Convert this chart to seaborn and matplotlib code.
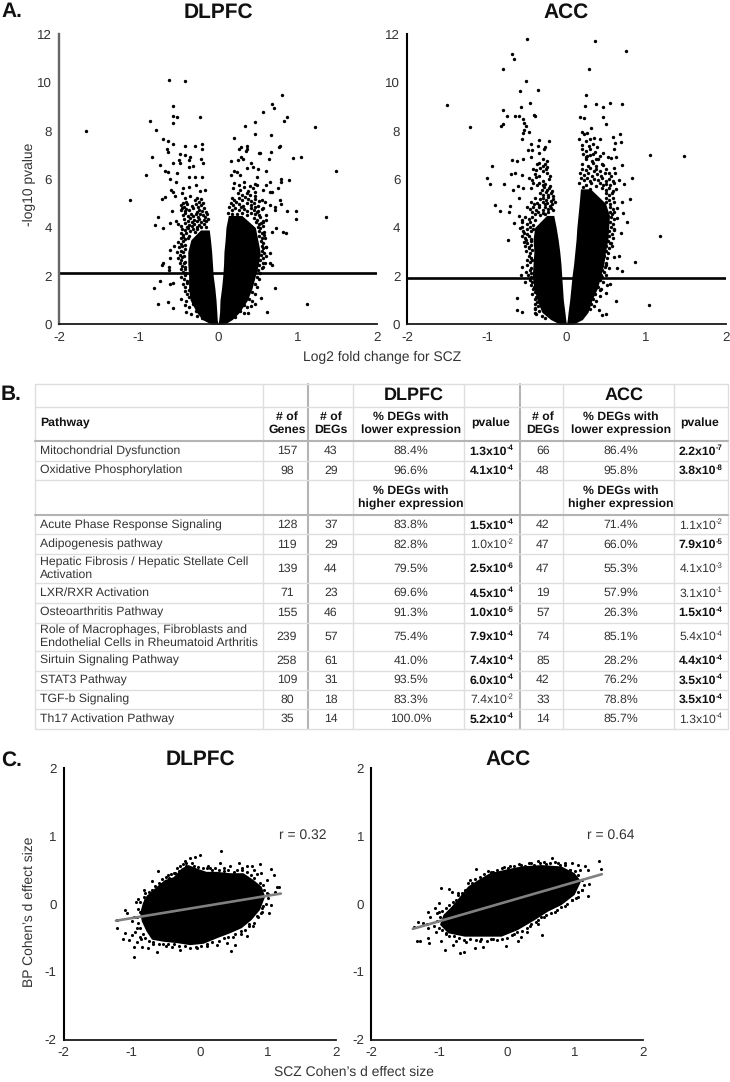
import matplotlib
matplotlib.use("Agg")
import matplotlib.pyplot as plt
import seaborn as sns

# volcano outliers, the dense core is kept as lobe outlines
dlpfc_fc = [-1.66, -1.11, -0.90, -0.855, -0.775, -0.825, -0.615, -0.415, -0.56, -0.56, -0.51, -0.56, -0.23,
            -0.69, -0.63, -0.56, -0.645, -0.625, -0.41, -0.29, -0.2, -0.2, -0.48, -0.415, -0.35, -0.36, -0.49,
            -0.56, -0.73, -0.48, -0.37, -0.31, -0.21, -0.185, -0.67, -0.63, -0.52, -0.6, -0.36, -0.29, -0.205,
            -0.53, -0.36, -0.28, -0.44, -0.595, -0.56, -0.165, -0.225, -0.45, -0.54, -0.67, -0.70, -0.58, -0.75,
            -0.6, -0.53, -0.79, -0.69, -0.69, -0.71, -0.62, -0.62, -0.61, -0.60, -0.55, -0.73, -0.8, -0.76,
            -0.61, -0.56, -0.63, -0.57,
            0.80, 0.68, 0.705, 0.56, 0.865, 0.825, 0.47, 0.34, 1.22, 0.47, 0.667, 0.205, 0.78, 0.77, 0.36,
            0.285, 0.27, 0.37, 0.35, 0.51, 0.53, 0.667, 0.94, 1.04, 0.645, 0.29, 0.16, 0.255, 0.32, 0.42,
            0.445, 0.36, 1.48, 0.61, 0.5, 0.205, 0.245, 0.165, 0.28, 0.49, 0.655, 0.79, 0.79, 0.89, 0.61,
            0.76, 0.57, 0.655, 0.675, 0.485, 0.78, 0.55, 0.79, 0.59, 0.655, 0.72, 0.57, 0.865, 0.985, 0.985,
            1.36, 0.72, 0.61, 0.57, 0.61, 0.82, 0.85, 0.73, 0.675, 0.59, 0.61, 0.655, 0.66, 0.685, 0.59, 0.56,
            0.72, 1.12, 0.615, 0.54, 0.47, 0.38]
dlpfc_logp = [7.99, 5.14, 6.18, 8.42, 8.02, 6.93, 10.10, 10.04, 9.02, 8.61, 8.55, 8.31, 8.55,
              7.66, 7.58, 7.45, 7.23, 7.12, 7.37, 7.37, 7.44, 7.23, 7.03, 7.0, 6.93, 6.79, 6.79,
              6.65, 6.58, 6.65, 6.52, 6.56, 6.83, 6.65, 6.35, 6.31, 6.24, 6.0, 6.1, 6.1, 6.1,
              5.9, 5.69, 5.76, 5.65, 5.55, 5.48, 5.55, 5.52, 5.41, 5.3, 5.28, 5.18, 4.7, 4.42,
              4.2, 4.28, 4.09, 3.97, 2.52, 2.47, 2.38, 2.25, 2.73, 3.07, 3.24, 1.8, 1.49, 0.83,
              1.67, 1.72, 0.94, 0.69,
              9.46, 9.1, 8.94, 8.76, 8.57, 8.39, 8.37, 8.18, 8.15, 7.85, 7.82, 7.69, 7.37, 7.31, 7.37,
              7.31, 7.24, 7.24, 7.16, 7.07, 7.09, 7.11, 6.89, 6.91, 6.85, 6.93, 6.74, 6.79, 6.82, 6.65,
              6.52, 6.45, 6.32, 6.35, 6.42, 6.34, 6.31, 6.17, 6.17, 6.1, 5.9, 5.99, 5.9, 5.96, 5.76,
              5.65, 5.55, 5.48, 5.48, 5.76, 5.14, 5.14, 4.96, 5.07, 4.93, 4.86, 4.79, 4.7, 4.7, 4.34,
              4.42, 4.72, 4.52, 4.24, 4.31, 3.83, 3.79, 4.0, 3.8, 3.55, 3.21, 2.93, 2.52, 2.45, 2.55, 2.38,
              1.49, 0.85, 0.51, 1.1, 0.84, 0.48]

acc_fc = [-0.495, 0.36, 0.745, -0.69, -0.655, -0.80, 0.285, -0.51, -0.585, -0.355, 0.24, -1.505, -0.46, -0.57,
          -0.80, 0.235, 0.375, 0.455, 0.545, 0.70, -0.745, -0.65, -0.595, -0.41, -0.39, -0.545, -0.53, -0.515,
          -0.80, -0.825, -1.21, 0.165, 0.225, 0.46, 0.495, -0.53, -0.465, -0.55, -0.565, -0.35, -0.22, -0.445,
          -0.36, -0.43, -0.48, -0.265, -0.28, -0.345, -0.44, -0.69, -0.625, -0.545, -0.93, -0.995, -0.96, -0.78,
          -0.67, -0.70, -0.65, -0.555, -0.605, -0.90, -0.83, -0.705, -0.72, -0.66, -0.74, -0.60, -0.55, -0.60,
          -0.555, -0.585, -0.535, -0.515, -0.47, -0.555, -0.515, -0.57, -0.525, -0.62, -0.62, -0.56, -0.39, -0.39,
          0.19, 0.22, 0.305, 0.26, 0.34, 0.42, 0.585, 0.67, 0.615, 0.68, 0.60, 0.46, 1.045, 1.47, 0.525, 0.565,
          0.625, 0.365, 0.24, 0.29, 0.455, 0.70, 0.595, 0.53, 0.825, 0.655, 0.615, 0.72, 0.625, 0.795, 0.70,
          0.635, 0.71, 0.765, 0.635, 0.69, 1.18, 0.595, 0.55, 0.865, 0.655, 0.595, 0.70, 0.635, 0.54, 0.49,
          0.625, 1.04, 0.55, 0.49, 0.405, 0.49, 0.445, 0.51, 0.425]
acc_logp = [11.78, 11.72, 11.31, 11.18, 10.98, 10.56, 10.55, 10.06, 9.63, 9.67, 9.49, 9.08, 9.13, 8.97,
            8.86, 9.01, 9.12, 8.99, 9.13, 9.12, 8.6, 8.6, 8.62, 8.65, 8.62, 8.48, 8.31, 8.21,
            8.26, 8.21, 8.15, 8.58, 8.51, 8.55, 8.28, 8.03, 7.93, 7.89, 7.64, 7.62, 7.58, 7.44,
            7.37, 7.2, 7.2, 7.31, 7.23, 7.09, 6.93, 6.79, 6.74, 6.83, 6.54, 6.06, 5.79, 5.79,
            5.55, 6.21, 6.27, 6.17, 5.72, 4.92, 4.67, 4.89, 4.66, 4.17, 3.5, 5.21, 5.62, 4.49,
            4.31, 3.97, 3.76, 3.48, 3.21, 2.38, 2.18, 2.02, 1.76, 1.1, 0.59, 0.52, 0.66, 0.45,
            7.96, 7.87, 8.11, 7.89, 7.69, 7.66, 7.74, 7.85, 7.51, 7.52, 7.24, 7.09, 6.98, 6.97, 6.9, 6.89,
            6.9, 6.82, 6.93, 7.0, 6.58, 6.58, 6.45, 6.24, 6.05, 5.96, 6.24, 5.79, 5.58, 5.17, 5.07,
            4.79, 4.59, 4.21, 4.38, 3.79, 3.65, 3.9, 3.35, 2.58, 2.84, 2.8, 2.22, 2.31, 2.31, 2.45,
            0.96, 0.8, 1.67, 1.28, 0.59, 0.43, 0.39, 1.63, 1.42]

# speckled margin of the lobes, estimated by eye as (fold change, -log10 p)
dlpfc_fringe_left = [
    (-0.42, 5.22), (-0.40, 5.07), (-0.35, 5.31), (-0.29, 5.13), (-0.27, 5.24), (-0.24, 5.04), (-0.21, 5.19),
    (-0.46, 4.93), (-0.44, 5.02), (-0.43, 4.85), (-0.39, 4.97), (-0.33, 4.89), (-0.28, 4.96), (-0.25, 4.84),
    (-0.22, 4.93), (-0.19, 5.01), (-0.47, 4.72), (-0.45, 4.81), (-0.42, 4.68), (-0.40, 4.77), (-0.36, 4.71),
    (-0.31, 4.79), (-0.27, 4.66), (-0.24, 4.74), (-0.2, 4.69), (-0.17, 4.81), (-0.15, 4.63), (-0.44, 4.53),
    (-0.41, 4.62), (-0.38, 4.46), (-0.34, 4.57), (-0.31, 4.49), (-0.28, 4.58), (-0.25, 4.45), (-0.23, 4.55),
    (-0.19, 4.5), (-0.16, 4.42), (-0.14, 4.56), (-0.43, 4.36), (-0.38, 4.28), (-0.35, 4.38), (-0.33, 4.22),
    (-0.3, 4.33), (-0.27, 4.25), (-0.24, 4.37), (-0.21, 4.21), (-0.18, 4.31), (-0.15, 4.26), (-0.13, 4.35),
    (-0.5, 4.16), (-0.46, 4.08), (-0.42, 4.17), (-0.39, 4.03), (-0.36, 4.12), (-0.33, 4.05), (-0.3, 4.14),
    (-0.27, 4.02), (-0.24, 4.1), (-0.21, 4.01), (-0.18, 4.13), (-0.15, 4.04), (-0.45, 3.94), (-0.41, 3.88),
    (-0.38, 3.97), (-0.35, 3.85), (-0.32, 3.93), (-0.29, 3.83), (-0.26, 3.95), (-0.46, 3.76), (-0.44, 3.71),
    (-0.40, 3.79), (-0.37, 3.66), (-0.47, 3.57), (-0.44, 3.62), (-0.41, 3.51), (-0.38, 3.58), (-0.5, 3.41),
    (-0.46, 3.33), (-0.44, 3.45), (-0.42, 3.27), (-0.49, 3.18), (-0.47, 3.05), (-0.45, 3.23), (-0.42, 3.12),
    (-0.52, 2.97), (-0.48, 2.88), (-0.44, 2.99), (-0.43, 2.81), (-0.5, 2.74), (-0.47, 2.66), (-0.45, 2.77),
    (-0.42, 2.58), (-0.48, 2.52), (-0.45, 2.42), (-0.43, 2.55), (-0.41, 2.36), (-0.47, 2.29), (-0.44, 2.18),
    (-0.42, 2.3), (-0.40, 2.12), (-0.46, 1.96), (-0.43, 1.87), (-0.41, 2.02), (-0.39, 1.79), (-0.44, 1.66),
    (-0.41, 1.55), (-0.39, 1.71), (-0.42, 1.37), (-0.39, 1.24), (-0.37, 1.42), (-0.46, 1.06), (-0.40, 0.96),
    (-0.36, 1.11), (-0.42, 0.79), (-0.36, 0.71), (-0.31, 0.83), (-0.40, 0.52), (-0.34, 0.44), (-0.28, 0.57),
    (-0.27, 0.33), (-0.2, 0.24)]
dlpfc_fringe_right = [
    (0.2, 5.84), (0.27, 5.77), (0.33, 5.88), (0.4, 5.73), (0.47, 5.81), (0.19, 5.62), (0.28, 5.55), (0.33, 5.67),
    (0.38, 5.52), (0.44, 5.64), (0.46, 5.48), (0.25, 5.41), (0.3, 5.33), (0.36, 5.44), (0.4, 5.36), (0.47, 5.29),
    (0.17, 5.23), (0.2, 5.14), (0.26, 5.21), (0.3, 5.12), (0.34, 5.25), (0.38, 5.16), (0.42, 5.08), (0.47, 5.19),
    (0.52, 5.11), (0.16, 5.02), (0.19, 4.93), (0.23, 5.05), (0.27, 4.96), (0.31, 4.88), (0.36, 5.01), (0.41, 4.94),
    (0.45, 5.03), (0.5, 4.91), (0.14, 4.83), (0.17, 4.74), (0.21, 4.81), (0.26, 4.71), (0.29, 4.85), (0.33, 4.76),
    (0.37, 4.69), (0.41, 4.82), (0.45, 4.73), (0.47, 4.84), (0.5, 4.67), (0.55, 4.78), (0.13, 4.61), (0.17, 4.55),
    (0.42, 4.62), (0.46, 4.54), (0.49, 4.64), (0.52, 4.51), (0.24, 4.58), (0.3, 4.62), (0.36, 4.52), (0.45, 4.41),
    (0.49, 4.33), (0.53, 4.44), (0.56, 4.29), (0.48, 4.22), (0.51, 4.13), (0.54, 4.19), (0.5, 4.04), (0.53, 3.97),
    (0.56, 4.08), (0.52, 3.86), (0.55, 3.77), (0.58, 3.83), (0.52, 3.65), (0.55, 3.56), (0.58, 3.68), (0.54, 3.44),
    (0.57, 3.36), (0.55, 3.24), (0.57, 3.14), (0.6, 3.21), (0.55, 3.04), (0.58, 2.96), (0.54, 2.86), (0.57, 2.76),
    (0.6, 2.83), (0.53, 2.64), (0.56, 2.55), (0.52, 2.44), (0.55, 2.33), (0.5, 2.24), (0.53, 2.13), (0.49, 1.97),
    (0.52, 1.86), (0.46, 1.68), (0.49, 1.56), (0.43, 1.34), (0.47, 1.26), (0.39, 1.04), (0.43, 0.95), (0.33, 0.79),
    (0.37, 0.71), (0.42, 0.77), (0.28, 0.53), (0.33, 0.46), (0.22, 0.31)]
acc_fringe_left = [
    (-0.29, 6.84), (-0.25, 6.77), (-0.37, 6.62), (-0.34, 6.68), (-0.3, 6.55), (-0.27, 6.64), (-0.25, 6.52),
    (-0.42, 6.43), (-0.38, 6.37), (-0.33, 6.46), (-0.29, 6.34), (-0.26, 6.41), (-0.4, 6.22), (-0.35, 6.15),
    (-0.24, 6.24), (-0.21, 6.13), (-0.47, 6.03), (-0.43, 5.96), (-0.38, 6.07), (-0.3, 5.94), (-0.22, 6.02),
    (-0.42, 5.84), (-0.37, 5.77), (-0.34, 5.86), (-0.3, 5.74), (-0.27, 5.82), (-0.21, 5.72), (-0.44, 5.63),
    (-0.31, 5.57), (-0.28, 5.66), (-0.25, 5.54), (-0.22, 5.62), (-0.18, 5.51), (-0.33, 5.43), (-0.29, 5.36),
    (-0.26, 5.45), (-0.23, 5.33), (-0.2, 5.42), (-0.17, 5.31), (-0.4, 5.24), (-0.33, 5.16), (-0.29, 5.22),
    (-0.26, 5.13), (-0.23, 5.26), (-0.2, 5.11), (-0.17, 5.19), (-0.45, 5.04), (-0.41, 4.96), (-0.37, 5.02),
    (-0.34, 4.93), (-0.3, 5.06), (-0.27, 4.97), (-0.24, 5.03), (-0.21, 4.91), (-0.18, 4.99), (-0.15, 5.05),
    (-0.5, 4.84), (-0.46, 4.77), (-0.42, 4.86), (-0.38, 4.74), (-0.34, 4.83), (-0.3, 4.72), (-0.27, 4.85),
    (-0.23, 4.76), (-0.2, 4.82), (-0.17, 4.71), (-0.43, 4.63), (-0.4, 4.55), (-0.36, 4.66), (-0.33, 4.53),
    (-0.3, 4.62), (-0.27, 4.57), (-0.23, 4.64), (-0.52, 4.44), (-0.47, 4.36), (-0.43, 4.43), (-0.39, 4.33),
    (-0.56, 4.22), (-0.5, 4.14), (-0.46, 4.24), (-0.42, 4.12), (-0.56, 4.04), (-0.5, 3.96), (-0.46, 4.02),
    (-0.42, 3.93), (-0.55, 3.84), (-0.5, 3.75), (-0.45, 3.86), (-0.56, 3.64), (-0.52, 3.57), (-0.47, 3.66),
    (-0.44, 3.54), (-0.54, 3.42), (-0.49, 3.35), (-0.45, 3.46), (-0.52, 3.24), (-0.47, 3.15), (-0.44, 3.27),
    (-0.51, 3.04), (-0.46, 2.95), (-0.43, 3.06), (-0.47, 2.84), (-0.44, 2.75), (-0.5, 2.64), (-0.46, 2.56),
    (-0.43, 2.67), (-0.49, 2.44), (-0.45, 2.34), (-0.46, 2.24), (-0.44, 2.13), (-0.48, 2.04), (-0.45, 1.95),
    (-0.46, 1.84), (-0.43, 1.75), (-0.44, 1.64), (-0.41, 1.55), (-0.42, 1.44), (-0.4, 1.34), (-0.43, 1.24),
    (-0.38, 1.13), (-0.40, 1.03), (-0.37, 0.93), (-0.39, 0.84), (-0.36, 0.74), (-0.40, 0.63), (-0.34, 0.54),
    (-0.38, 0.42), (-0.31, 0.35), (-0.27, 0.26)]
acc_fringe_right = [
    (0.16, 7.64), (0.25, 7.57), (0.3, 7.66), (0.2, 7.43), (0.28, 7.36), (0.33, 7.46), (0.38, 7.33), (0.2, 7.24),
    (0.24, 7.16), (0.29, 7.26), (0.36, 7.13), (0.21, 7.03), (0.26, 6.95), (0.33, 7.05), (0.42, 6.96), (0.25, 6.84),
    (0.32, 6.76), (0.4, 6.85), (0.2, 6.63), (0.27, 6.56), (0.33, 6.65), (0.37, 6.53), (0.44, 6.62), (0.2, 6.44),
    (0.24, 6.36), (0.29, 6.45), (0.34, 6.33), (0.37, 6.42), (0.42, 6.35), (0.5, 6.43), (0.17, 6.24), (0.22, 6.16),
    (0.27, 6.25), (0.32, 6.13), (0.38, 6.22), (0.43, 6.15), (0.48, 6.26), (0.56, 6.14), (0.18, 6.03), (0.22, 5.95),
    (0.26, 6.05), (0.3, 5.93), (0.35, 6.02), (0.4, 5.96), (0.44, 6.06), (0.49, 5.92), (0.54, 6.01), (0.58, 5.94),
    (0.16, 5.83), (0.24, 5.76), (0.31, 5.85), (0.37, 5.73), (0.42, 5.84), (0.46, 5.74), (0.5, 5.82), (0.55, 5.75),
    (0.6, 5.86), (0.21, 5.66), (0.3, 5.61), (0.45, 5.63), (0.5, 5.55), (0.53, 5.64), (0.58, 5.53), (0.5, 5.43),
    (0.54, 5.35), (0.57, 5.44), (0.5, 5.24), (0.54, 5.15), (0.58, 5.22), (0.5, 5.04), (0.55, 4.96), (0.6, 5.06),
    (0.55, 4.84), (0.58, 4.75), (0.55, 4.64), (0.57, 4.55), (0.6, 4.63), (0.56, 4.44), (0.6, 4.35), (0.55, 4.24),
    (0.58, 4.14), (0.56, 4.04), (0.6, 3.95), (0.54, 3.84), (0.57, 3.75), (0.54, 3.64), (0.58, 3.55), (0.52, 3.44),
    (0.56, 3.35), (0.5, 3.24), (0.53, 3.15), (0.57, 3.22), (0.49, 3.04), (0.52, 2.95), (0.47, 2.84), (0.51, 2.75),
    (0.45, 2.64), (0.49, 2.55), (0.44, 2.44), (0.48, 2.35), (0.44, 2.24), (0.47, 2.15), (0.43, 2.04), (0.45, 1.95),
    (0.49, 2.02), (0.42, 1.84), (0.46, 1.75), (0.39, 1.54), (0.43, 1.45), (0.36, 1.24), (0.42, 1.15), (0.33, 1.04),
    (0.37, 0.95), (0.31, 0.84), (0.34, 0.75), (0.29, 0.62)]

# outlines of the solid black core of each volcano lobe
dlpfc_left_y = [0.0, 0.2, 0.5, 1.0, 1.5, 2.0, 2.5, 3.0, 3.5, 3.9]
dlpfc_left_outer = [-0.08, -0.2, -0.27, -0.35, -0.37, -0.37, -0.38, -0.38, -0.34, -0.22]
dlpfc_left_inner = [0.0, -0.01, -0.015, -0.025, -0.04, -0.06, -0.07, -0.08, -0.095, -0.11]
dlpfc_right_y = [0.0, 0.2, 0.5, 1.0, 1.5, 2.0, 2.5, 3.0, 3.5, 4.0, 4.5]
dlpfc_right_outer = [0.08, 0.18, 0.27, 0.37, 0.43, 0.47, 0.51, 0.53, 0.5, 0.47, 0.3]
dlpfc_right_inner = [0.0, 0.01, 0.02, 0.025, 0.045, 0.06, 0.07, 0.075, 0.09, 0.10, 0.13]
acc_left_y = [0.0, 0.2, 0.5, 1.0, 1.5, 2.0, 2.5, 3.0, 3.5, 4.0, 4.5]
acc_left_outer = [-0.08, -0.2, -0.31, -0.37, -0.41, -0.43, -0.42, -0.41, -0.42, -0.40, -0.25]
acc_left_inner = [0.0, -0.01, -0.02, -0.04, -0.05, -0.06, -0.07, -0.085, -0.105, -0.13, -0.16]
acc_right_y = [0.0, 0.2, 0.5, 1.0, 1.5, 2.0, 2.5, 3.0, 3.5, 4.0, 4.5, 5.0, 5.6]
acc_right_outer = [0.08, 0.2, 0.27, 0.32, 0.39, 0.43, 0.47, 0.49, 0.52, 0.53, 0.54, 0.49, 0.3]
acc_right_inner = [0.0, 0.01, 0.02, 0.04, 0.055, 0.07, 0.09, 0.105, 0.12, 0.13, 0.145, 0.16, 0.175]

dlpfc_cut = 2.1
acc_cut = 1.9

# effect size scatter, outliers plus the outline of the black cloud
c_dlpfc_x = [0.31, -0.62, -0.96, 0.46, -1.21, -1.21, -1.095, -1.07, -0.935, -0.80, 0.0, -0.07, -0.14, -0.215, -0.29,
             0.885, 1.04, 0.76, 0.69, 0.58, 0.445, 0.30, 0.125, 1.09, 1.13, 1.17, 1.105, 1.04, 1.02, 0.935,
             0.785, 0.69, 0.52, 0.49, 0.25, -0.045, -0.29, -0.41, -0.63, -0.755, -0.97, -0.925, -1.12, -1.045,
             -1.095, -1.0, -0.875, -0.925, -1.0, -0.97, -0.85, -0.68, -0.5, 0.9, 0.8, 0.98, 1.0, 0.85, 0.62, 0.35,
             -0.9, -0.82, -0.7, -0.47, -0.2, 0.1, 0.4, 0.6, -0.86, -0.95, -0.38, 0.15, 0.72, 0.92,
             -0.9, -0.88, -0.82, -0.8, -0.74, -0.7, -0.66, -0.6, -0.55, -0.5, -0.45, -0.42, -0.37, -0.33, -0.3, -0.25,
             -0.2, -0.12, -0.08, -0.02, 0.05, 0.1, 0.18, 0.22, 0.28, 0.35, 0.42, 0.5, 0.55, 0.62, 0.7, 0.75, 0.8, 0.84,
             0.88, 0.93, 0.95, 0.98, 1.0, 0.97, 0.92, 0.9, 0.84, 0.8, 0.72, 0.66, 0.6, 0.52, 0.42, 0.35, 0.28, 0.18,
             0.1, 0.02, -0.06, -0.14, -0.22, -0.3, -0.38, -0.46, -0.54, -0.6, -0.68, -0.74, -0.8, -0.83, -0.87, -0.9,
             -0.92, -0.88]
c_dlpfc_y = [0.77, 0.48, -0.78, -0.70, -0.24, -0.35, -0.09, -0.14, 0.02, 0.155, 0.72, 0.695, 0.67, 0.635, 0.56,
             0.585, 0.51, 0.56, 0.55, 0.605, 0.55, 0.605, 0.56, 0.425, 0.25, 0.24, 0.18, -0.02, -0.14, -0.04,
             -0.335, -0.47, -0.61, -0.485, -0.61, -0.655, -0.68, -0.64, -0.705, -0.655, -0.64, -0.56, -0.52, -0.53,
             -0.435, -0.46, -0.485, -0.36, -0.26, -0.19, -0.63, -0.6, -0.62, 0.45, 0.5, 0.35, 0.15, -0.2, 0.52, 0.53,
             0.07, 0.2, 0.33, 0.42, 0.6, -0.62, -0.58, -0.45, -0.52, -0.42, 0.46, 0.52, -0.33, -0.12,
             -0.08, 0.03, 0.1, 0.06, 0.17, 0.2, 0.26, 0.3, 0.36, 0.4, 0.38, 0.44, 0.45, 0.53, 0.48, 0.58,
             0.55, 0.6, 0.55, 0.54, 0.52, 0.52, 0.5, 0.53, 0.5, 0.48, 0.5, 0.47, 0.5, 0.5, 0.47, 0.42, 0.38, 0.44,
             0.3, 0.28, 0.2, 0.16, 0.08, 0.0, -0.06, -0.13, -0.18, -0.28, -0.3, -0.38, -0.4, -0.44, -0.49, -0.5, -0.55, -0.57,
             -0.6, -0.62, -0.63, -0.65, -0.62, -0.62, -0.6, -0.6, -0.59, -0.6, -0.57, -0.55, -0.5, -0.44, -0.36, -0.28,
             -0.2, -0.12]
c_dlpfc_out_x = [-0.875, -0.835, -0.78, -0.63, -0.51, -0.385, -0.265, -0.165, -0.045, 0.10, 0.25, 0.445, 0.64,
                 0.79, 0.91, 0.96, 0.885, 0.76, 0.615, 0.445, 0.25, 0.055, -0.14, -0.335, -0.53, -0.70, -0.78, -0.85]
c_dlpfc_out_y = [-0.14, 0.01, 0.115, 0.25, 0.35, 0.39, 0.52, 0.57, 0.52, 0.47, 0.47, 0.45, 0.45,
                 0.35, 0.25, 0.105, -0.09, -0.24, -0.36, -0.435, -0.51, -0.59, -0.61, -0.58, -0.56, -0.53, -0.41, -0.26]
c_dlpfc_line_x = [-1.23, 1.19]
c_dlpfc_line_y = [-0.25, 0.15]

c_acc_x = [1.35, 1.385, 1.19, 1.20, 1.14, 1.045, 1.19, 1.07, 0.85, 0.66, 0.46, 0.75, 0.58, 0.21, 0.05, -0.08, -0.46,
           -0.23, -0.545, -0.965, -0.855, -0.805, -0.715, -1.0, -1.06, -1.165, -1.13, -1.035, -1.375, -1.31, -1.23,
           -1.18, -1.08, -1.155, -1.325, -1.285, -1.14, -1.155, -0.97, -0.905, -0.80, -0.695, -0.635, -0.47, -0.35,
           -0.40, -0.02, 0.155, 0.52, 0.335, 0.21, 0.46, 0.70, 0.85, 1.045, 1.1, 0.95, 0.35, 0.92,
           -0.9, -1.05, -0.75, -0.6, -0.2, 0.1, 0.3, 0.45, 0.55, 0.8, 0.95,
           -0.99, -0.95, -0.9, -0.85, -0.8, -0.75, -0.72, -0.66, -0.62, -0.58, -0.52, -0.47, -0.4, -0.34, -0.28, -0.2,
           -0.14, -0.05, 0.02, 0.1, 0.18, 0.26, 0.33, 0.4, 0.48, 0.55, 0.63, 0.7, 0.78, 0.85, 0.92, 1.0, 1.05, 1.1,
           1.13, 1.1, 1.05, 1.02, 0.95, 0.88, 0.8, 0.73, 0.65, 0.58, 0.5, 0.43, 0.36, 0.3, 0.22, 0.15, 0.08, 0.0,
           -0.07, -0.15, -0.23, -0.3, -0.38, -0.46, -0.55, -0.63, -0.7, -0.78, -0.85, -0.9, -0.95, -1.0, -1.03, -1.0]
c_acc_y = [0.625, 0.51, 0.115, 0.285, 0.56, 0.565, 0.49, 0.50, 0.605, 0.68, 0.635, 0.595, 0.585, 0.57, 0.56, 0.525, 0.51,
           0.475, 0.35, 0.23, 0.215, 0.18, 0.155, 0.01, -0.065, -0.115, -0.19, -0.14, -0.345, -0.275, -0.285,
           -0.295, -0.335, -0.36, -0.555, -0.555, -0.58, -0.50, -0.555, -0.68, -0.605, -0.73, -0.705, -0.655, -0.64,
           -0.555, -0.62, -0.545, -0.46, -0.335, -0.485, -0.24, -0.115, -0.04, 0.105, 0.2, 0.6, 0.6, 0.5,
           -0.45, -0.42, -0.55, -0.56, -0.52, -0.44, -0.42, -0.3, -0.2, 0.02, 0.05,
           -0.2, -0.1, -0.06, -0.02, 0.03, 0.06, 0.13, 0.16, 0.2, 0.3, 0.3, 0.37, 0.4, 0.44, 0.48, 0.47,
           0.5, 0.54, 0.52, 0.55, 0.58, 0.56, 0.6, 0.57, 0.6, 0.62, 0.6, 0.62, 0.57, 0.57, 0.5, 0.48, 0.42, 0.35,
           0.28, 0.2, 0.17, 0.08, 0.05, 0.0, -0.05, -0.09, -0.13, -0.16, -0.2, -0.27, -0.3, -0.36, -0.4, -0.42, -0.46, -0.5,
           -0.52, -0.53, -0.52, -0.55, -0.52, -0.53, -0.52, -0.53, -0.5, -0.48, -0.47, -0.43, -0.38, -0.35, -0.25, -0.12]
c_acc_out_x = [-0.935, -0.81, -0.69, -0.57, -0.42, -0.25, -0.03, 0.21, 0.505, 0.80, 0.995, 1.09, 0.995, 0.80, 0.605,
               0.41, 0.165, -0.08, -0.37, -0.62, -0.865, -0.985]
c_acc_out_y = [-0.165, -0.04, 0.105, 0.255, 0.35, 0.45, 0.50, 0.55, 0.57, 0.55, 0.45, 0.33, 0.13, -0.02, -0.115,
               -0.24, -0.385, -0.485, -0.485, -0.485, -0.435, -0.31]
c_acc_line_x = [-1.385, 1.395]
c_acc_line_y = [-0.37, 0.435]

# table contents
pathways = ["Mitochondrial Dysfunction", "Oxidative Phosphorylation", "Acute Phase Response Signaling",
            "Adipogenesis pathway", "Hepatic Fibrosis / Hepatic Stellate Cell\nActivation", "LXR/RXR Activation",
            "Osteoarthritis Pathway", "Role of Macrophages, Fibroblasts and\nEndothelial Cells in Rheumatoid Arthritis",
            "Sirtuin Signaling Pathway", "STAT3 Pathway", "TGF-b Signaling", "Th17 Activation Pathway"]
n_genes = [157, 98, 128, 119, 139, 71, 155, 239, 258, 109, 80, 35]
dlpfc_degs = [43, 29, 37, 29, 44, 23, 46, 57, 61, 31, 18, 14]
dlpfc_pct = ["88.4%", "96.6%", "83.8%", "82.8%", "79.5%", "69.6%", "91.3%", "75.4%", "41.0%", "93.5%", "83.3%", "100.0%"]
dlpfc_mant = ["1.3", "4.1", "1.5", "1.0", "2.5", "4.5", "1.0", "7.9", "7.4", "6.0", "7.4", "5.2"]
dlpfc_exp = [-4, -4, -4, -2, -6, -4, -5, -4, -4, -4, -2, -4]
dlpfc_bold = [1, 1, 1, 0, 1, 1, 1, 1, 1, 1, 0, 1]
acc_degs = [66, 48, 42, 47, 47, 19, 57, 74, 85, 42, 33, 14]
acc_pct = ["86.4%", "95.8%", "71.4%", "66.0%", "55.3%", "57.9%", "26.3%", "85.1%", "28.2%", "76.2%", "78.8%", "85.7%"]
acc_mant = ["2.2", "3.8", "1.1", "7.9", "4.1", "3.1", "1.5", "5.4", "4.4", "3.5", "3.5", "1.3"]
acc_exp = [-7, -8, -2, -5, -3, -1, -4, -4, -4, -4, -4, -4]
acc_bold = [1, 1, 0, 1, 0, 0, 1, 0, 1, 1, 1, 0]

sns.set_theme(style="white")
plt.rcParams["font.family"] = ["Liberation Sans", "DejaVu Sans"]
plt.rcParams["axes.unicode_minus"] = False
plt.rcParams["text.hinting"] = "no_hinting"

W, H = 730, 1082
TXT = "#333333"
fig = plt.figure(figsize=(W / 100, H / 100), dpi=100)

# overlay in pixel units for the table and the loose labels
page = fig.add_axes([0, 0, 1, 1])
page.set_xlim(0, W)
page.set_ylim(H, 0)
page.axis("off")


def panel(left, right, top, bottom, lim_x, lim_y, ticks_x, ticks_y, y_col="black", y_lw=1.5):
    ax = fig.add_axes([left / W, 1 - bottom / H, (right - left) / W, (bottom - top) / H])
    ax.set_xlim(*lim_x)
    ax.set_ylim(*lim_y)
    ax.set_xticks(ticks_x)
    ax.set_yticks(ticks_y)
    ax.tick_params(length=0, pad=5, labelsize=9.6, labelcolor=TXT)
    ax.patch.set_alpha(0)
    sns.despine(ax=ax)
    ax.spines["left"].set_color(y_col)
    ax.spines["left"].set_linewidth(y_lw)
    ax.spines["bottom"].set_color("#1a1a1a")
    ax.spines["bottom"].set_linewidth(1.3)
    return ax


def volcano(ax, fc, logp, left, right, fringe, cut):
    ly, lo, li = left
    ax.fill_betweenx(ly, lo, li, color="black", linewidth=0)
    ry, ro, ri = right
    ax.fill_betweenx(ry, ro, ri, color="black", linewidth=0)
    fx = [p[0] for p in fringe]
    fy = [p[1] for p in fringe]
    sns.scatterplot(x=fc + fx, y=logp + fy, ax=ax, color="black", s=6, linewidth=0, clip_on=False)
    sns.lineplot(x=[-2, 2], y=[cut, cut], ax=ax, color="black", linewidth=1.9)


def cloud(ax, x, y, out_x, out_y, line_x, line_y):
    ax.fill(out_x, out_y, color="black", linewidth=0)
    sns.scatterplot(x=x, y=y, ax=ax, color="black", s=5, linewidth=0)
    sns.lineplot(x=line_x, y=line_y, ax=ax, color="#808080", linewidth=1.9)


vol_x = [-2, -1, 0, 1, 2]
vol_y = [0, 2, 4, 6, 8, 10, 12]
eff = [-2, -1, 0, 1, 2]

ax = panel(59, 377, 34, 324.3, (-2, 2), (0, 12), vol_x, vol_y, y_col="#666666", y_lw=1.7)
volcano(ax, dlpfc_fc, dlpfc_logp, (dlpfc_left_y, dlpfc_left_outer, dlpfc_left_inner),
        (dlpfc_right_y, dlpfc_right_outer, dlpfc_right_inner), dlpfc_fringe_left + dlpfc_fringe_right, dlpfc_cut)

ax = panel(407.3, 725.7, 34, 324.3, (-2, 2), (0, 12), vol_x, vol_y)
volcano(ax, acc_fc, acc_logp, (acc_left_y, acc_left_outer, acc_left_inner),
        (acc_right_y, acc_right_outer, acc_right_inner), acc_fringe_left + acc_fringe_right, acc_cut)

ax = panel(63.5, 336, 768, 1039.5, (-2, 2), (-2, 2), eff, eff)
cloud(ax, c_dlpfc_x, c_dlpfc_y, c_dlpfc_out_x, c_dlpfc_out_y, c_dlpfc_line_x, c_dlpfc_line_y)

ax = panel(371, 643, 768, 1039.5, (-2, 2), (-2, 2), eff, eff)
cloud(ax, c_acc_x, c_acc_y, c_acc_out_x, c_acc_out_y, c_acc_line_x, c_acc_line_y)

# letters, titles, axis labels
for y, letter in [(12, "A."), (395, "B."), (760, "C.")]:
    page.text(1, y, letter, fontsize=15, fontweight="bold", color="#111111", va="center", ha="left")
for x, y, name in [(218, 12, "DLPFC"), (566, 12, "ACC"), (200, 759, "DLPFC"), (507.7, 759, "ACC")]:
    page.text(x, y, name, fontsize=15, fontweight="bold", color="#111111", va="center", ha="center")
page.text(29, 184, "-log10 pvalue", fontsize=10, color=TXT, rotation=90, va="center", ha="center")
page.text(382, 357, "Log2 fold change for SCZ", fontsize=10, color=TXT, va="center", ha="center")
page.text(29, 912, "BP Cohen’s d effect size", fontsize=10, color=TXT, rotation=90, va="center", ha="center")
page.text(354, 1072, "SCZ Cohen’s d effect size", fontsize=10, color=TXT, va="center", ha="center")
page.text(303, 835.7, "r = 0.32", fontsize=10, color=TXT, va="center", ha="center")
page.text(610.7, 835.7, "r = 0.64", fontsize=10, color=TXT, va="center", ha="center")

# table grid
LIGHT = "#dedede"
HEAVY = "#b4b4b4"
col_lines = [34.5, 263, 308, 352.7, 464.3, 520, 563, 674.3, 728]
row_lines = [384.3, 406.7, 440.7, 461, 480.3, 515, 534.3, 554.3, 583.3, 602.7, 622.7, 650.7, 670.7, 690, 709.3, 729.3]
for x in col_lines:
    heavy = x in (308, 520)
    page.plot([x, x], [row_lines[0], row_lines[-1]], color=HEAVY if heavy else LIGHT, lw=1.5 if heavy else 1, zorder=1)
for y in row_lines:
    heavy = y in (440.7, 515)
    page.plot([col_lines[0], col_lines[-1]], [y, y], color=HEAVY if heavy else LIGHT, lw=1.5 if heavy else 1, zorder=1)

c_genes, c_dd, c_dpct, c_dp, c_ad, c_apct, c_ap = 287, 331, 410.7, 491, 543, 620.7, 700
TS = 8.8


def head(x, y, s, size=TS):
    page.text(x, y, s, fontsize=size, fontweight="bold", color="#111111", va="center", ha="center", linespacing=1.2)


def pval(x, y, mant, exp, bold):
    col = "#111111" if bold else TXT
    wt = "bold" if bold else "normal"
    page.text(x + 16, y + 0.5, mant + "x10", fontsize=TS, color=col, fontweight=wt, va="center", ha="right")
    page.text(x + 16, y - 3, str(exp), fontsize=5.5, color=col, fontweight=wt, va="center", ha="left")


head((308 + 520) / 2, 395, "DLPFC", 13)
head((520 + 728) / 2, 395, "ACC", 13)
page.text(40, 423.5, "Pathway", fontsize=TS, fontweight="bold", color="#111111", va="center", ha="left")
head(c_genes, 423.5, "# of\nGenes")
head(c_dd, 423.5, "# of\nDEGs")
head(c_dpct, 423.5, "% DEGs with\nlower expression")
head(c_dp, 423.5, "pvalue")
head(c_ad, 423.5, "# of\nDEGs")
head(c_apct, 423.5, "% DEGs with\nlower expression")
head(c_ap, 423.5, "pvalue")
head(c_dpct, 497.5, "% DEGs with\nhigher expression")
head(c_apct, 497.5, "% DEGs with\nhigher expression")

row_y = [451, 470.5, 525, 544.5, 568.5, 593, 612.7, 636.5, 660.7, 680, 699.7, 719]
for i, y in enumerate(row_y):
    page.text(40, y, pathways[i], fontsize=TS, color=TXT, va="center", ha="left", linespacing=1.2)
    for x, s in [(c_genes, n_genes[i]), (c_dd, dlpfc_degs[i]), (c_dpct, dlpfc_pct[i]),
                 (c_ad, acc_degs[i]), (c_apct, acc_pct[i])]:
        page.text(x, y, str(s), fontsize=TS, color=TXT, va="center", ha="center")
    pval(c_dp, y, dlpfc_mant[i], dlpfc_exp[i], dlpfc_bold[i])
    pval(c_ap, y, acc_mant[i], acc_exp[i], acc_bold[i])

fig.savefig("out.png", dpi=100)
